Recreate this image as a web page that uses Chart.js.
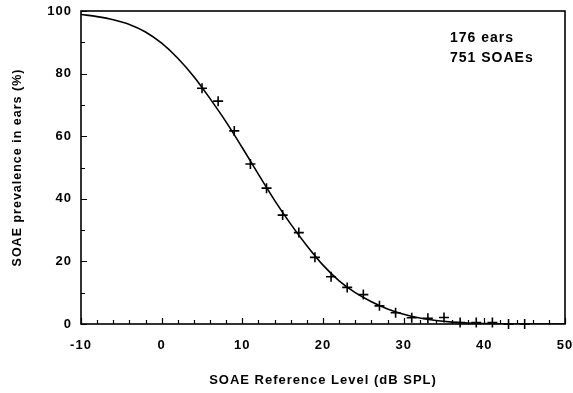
<!DOCTYPE html>
<html>
<head>
<meta charset="utf-8">
<script src="https://cdn.jsdelivr.net/npm/chart.js@4"></script>
<style>
  html, body { margin: 0; padding: 0; background: #fff; }
  #wrap { width: 573px; height: 393px; }
</style>
</head>
<body>
<div id="wrap"><canvas id="chart" width="573" height="393"></canvas></div>
<script>
// measured prevalence (%) at each reference level (dB SPL)
const levels = [5, 7, 9, 11, 13, 15, 17, 19, 21, 23, 25, 27, 29, 31, 33, 35, 37, 39, 41, 43, 45];
const prevalence = [75.3, 71.2, 61.7, 51.1, 43.4, 34.8, 29.2, 21.3, 15.1, 11.7, 9.4, 5.8, 3.6, 2.0, 1.8, 2.1, 0.5, 0.5, 0.5, 0, 0];

// fitted curve
const fitLevels = [-10, -8, -6, -4, -2, 0, 2, 4, 6, 8, 10, 12, 14, 16, 18, 20, 22, 24, 26, 28, 30, 32, 34, 36, 38, 40, 42, 44, 46, 48, 50];
const fitValues = [98.9, 98.2, 97.2, 95.7, 93.3, 89.7, 84.9, 79.0, 72.0, 64.5, 56.3, 47.8, 39.5, 31.9, 25.0, 18.8, 13.8, 10.0, 7.1, 4.8, 3.1, 1.9, 1.1, 0.6, 0.3, 0.15, 0.05, 0, 0, 0, 0];

const noteLines = ['176 ears', '751 SOAEs'];

const FONT = '"Liberation Sans", Arial, sans-serif';

// the lettering is a little wider than plain Arial
const spacingPlugin = {
    id: 'spacing',
    beforeLayout(chart) { chart.ctx.letterSpacing = '1px'; },
    beforeDraw(chart) { chart.ctx.letterSpacing = '1px'; }
};

// frame and inward tick marks
const framePlugin = {
    id: 'frame',
    afterDraw(chart) {
        const ctx = chart.ctx;
        const a = chart.chartArea;
        const xs = chart.scales.x;
        const ys = chart.scales.y;
        ctx.save();
        ctx.strokeStyle = '#000';
        ctx.lineWidth = 1.6;
        ctx.strokeRect(a.left, a.top, a.right - a.left, a.bottom - a.top);

        ctx.lineWidth = 1.2;
        ctx.beginPath();
        for (let v = -10; v <= 50; v += 2) {
            const px = Math.round(xs.getPixelForValue(v)) + 0.5;
            const len = v % 10 === 0 ? 6 : 4;
            ctx.moveTo(px, a.bottom);
            ctx.lineTo(px, a.bottom - len);
        }
        for (let v = 0; v <= 100; v += 10) {
            const py = Math.round(ys.getPixelForValue(v)) + 0.5;
            const len = v % 20 === 0 ? 6 : 4;
            ctx.moveTo(a.left, py);
            ctx.lineTo(a.left + len, py);
        }
        ctx.stroke();

        ctx.fillStyle = '#000';
        ctx.font = 'bold 14px ' + FONT;
        ctx.textAlign = 'left';
        ctx.textBaseline = 'middle';
        noteLines.forEach((t, i) => {
            ctx.fillText(t, a.left + 369, a.top + 27 + i * 20);
        });
        ctx.restore();
    }
};

new Chart(document.getElementById('chart'), {
    type: 'scatter',
    data: {
        datasets: [
            {
                label: 'fit',
                type: 'line',
                data: fitLevels.map((x, i) => ({ x: x, y: fitValues[i] })),
                borderColor: '#000',
                borderWidth: 1.6,
                pointRadius: 0,
                cubicInterpolationMode: 'monotone',
                fill: false
            },
            {
                label: 'ears',
                data: levels.map((x, i) => ({ x: x, y: prevalence[i] })),
                pointStyle: 'cross',
                pointRadius: 5,
                borderColor: '#000',
                borderWidth: 1.6,
                backgroundColor: '#000',
                clip: false
            }
        ]
    },
    options: {
        responsive: false,
        animation: false,
        layout: { autoPadding: false, padding: { left: 0, right: 8, top: 11, bottom: 0 } },
        plugins: {
            legend: { display: false },
            tooltip: { enabled: false }
        },
        scales: {
            x: {
                type: 'linear',
                min: -10,
                max: 50,
                ticks: {
                    stepSize: 10,
                    color: '#000',
                    padding: 14,
                    font: { family: FONT, size: 13, weight: 'bold' }
                },
                grid: { display: false, drawTicks: false },
                border: { display: false },
                title: {
                    display: true,
                    text: 'SOAE Reference Level (dB SPL)',
                    color: '#000',
                    padding: { top: 0, bottom: 5 },
                    font: { family: FONT, size: 13, weight: 'bold' }
                },
                afterFit(scale) {
                    scale.height = 69;
                    // let the end labels hang past the plot edges
                    scale.paddingLeft = 0;
                    scale.paddingRight = 0;
                }
            },
            y: {
                min: 0,
                max: 100,
                ticks: {
                    stepSize: 20,
                    color: '#000',
                    padding: 9,
                    font: { family: FONT, size: 13, weight: 'bold' }
                },
                grid: { display: false, drawTicks: false },
                border: { display: false },
                title: {
                    display: true,
                    text: 'SOAE prevalence in ears (%)',
                    color: '#000',
                    padding: { top: 10, bottom: 0 },
                    font: { family: FONT, size: 12.5, weight: 'bold' }
                },
                afterFit(scale) {
                    scale.width = 81;
                    scale.paddingTop = 0;
                    scale.paddingBottom = 0;
                }
            }
        }
    },
    plugins: [spacingPlugin, framePlugin]
});
</script>
</body>
</html>
